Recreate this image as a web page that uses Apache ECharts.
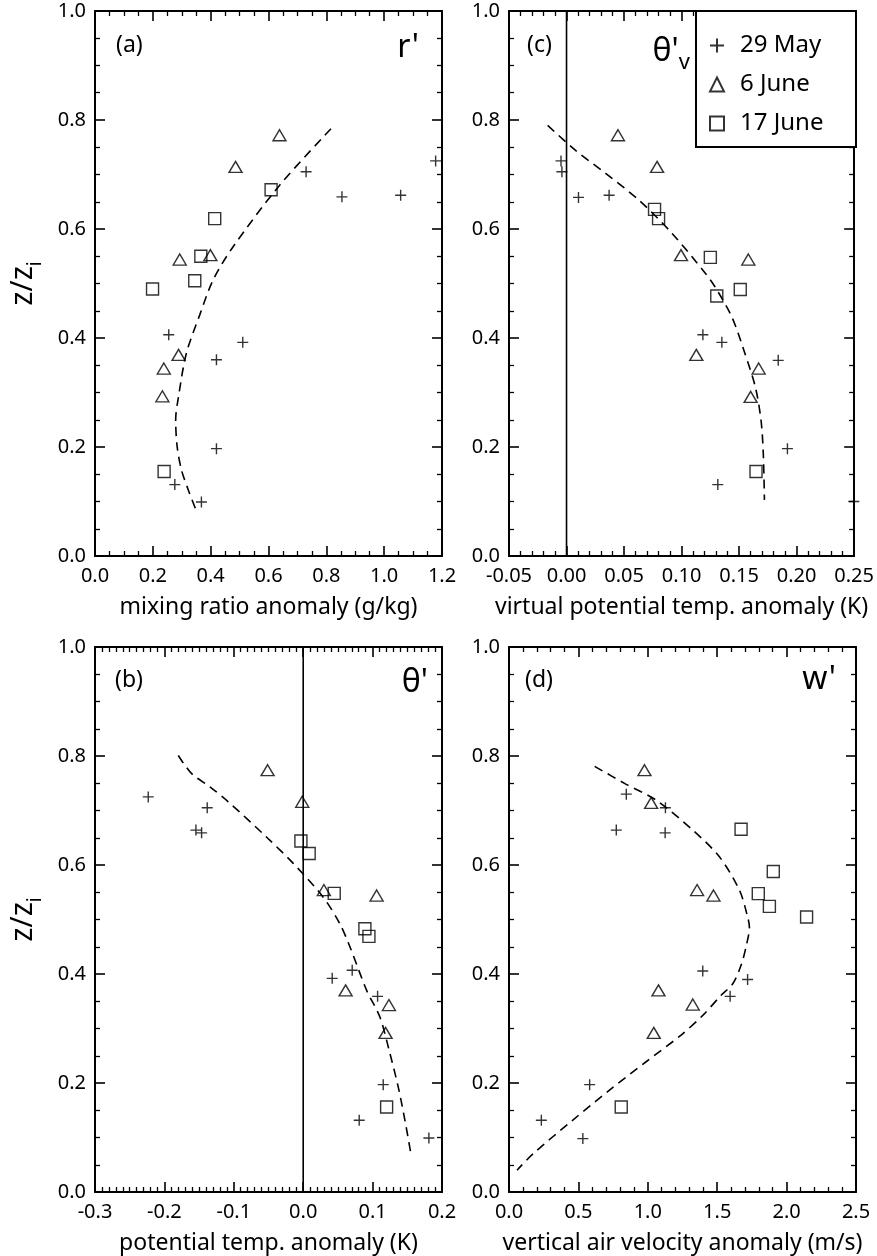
<!DOCTYPE html>
<html>
<head>
<meta charset="utf-8">
<script src="https://cdn.jsdelivr.net/npm/echarts@6/dist/echarts.min.js"></script>
<style>
html, body { margin: 0; padding: 0; background: #fff; }
#chart { width: 877px; height: 1256px; }
</style>
</head>
<body>
<div id="chart"></div>
<script>
const FONT = 'Noto Sans'

// legend names
const names = ['29 May', '6 June', '17 June']

// (a) mixing ratio anomaly, [x, z/zi]
const aMay = [[0.730, 0.705], [0.854, 0.659], [1.057, 0.662], [1.178, 0.725], [0.255, 0.406], [0.511, 0.392], [0.420, 0.360], [0.420, 0.197], [0.276, 0.131], [0.368, 0.099]]
const aJun6 = [[0.638, 0.772], [0.486, 0.714], [0.293, 0.544], [0.399, 0.552], [0.289, 0.369], [0.238, 0.344], [0.233, 0.293]]
const aJun17 = [[0.609, 0.672], [0.414, 0.619], [0.366, 0.550], [0.345, 0.505], [0.199, 0.490], [0.239, 0.155]]
const aFit = [[0.816, 0.784], [0.638, 0.680], [0.477, 0.567], [0.408, 0.506], [0.362, 0.442], [0.316, 0.372], [0.289, 0.293], [0.279, 0.250], [0.284, 0.201], [0.299, 0.158], [0.322, 0.122], [0.351, 0.082]]

// (c) virtual potential temp. anomaly
const cMay = [[-0.0048, 0.725], [-0.004, 0.705], [0.0104, 0.658], [0.037, 0.662], [0.1185, 0.406], [0.135, 0.392], [0.184, 0.359], [0.192, 0.197], [0.1315, 0.131], [0.2497, 0.100]]
const cJun6 = [[0.0447, 0.772], [0.0787, 0.714], [0.0995, 0.552], [0.158, 0.544], [0.1128, 0.369], [0.167, 0.344], [0.160, 0.292]]
const cJun17 = [[0.0765, 0.636], [0.080, 0.619], [0.125, 0.548], [0.151, 0.489], [0.1306, 0.477], [0.1647, 0.155]]
const cFit = [[-0.0164, 0.790], [0.0081, 0.744], [0.034, 0.702], [0.0629, 0.653], [0.0917, 0.592], [0.1206, 0.519], [0.129, 0.494], [0.1436, 0.439], [0.155, 0.372], [0.164, 0.311], [0.169, 0.250], [0.171, 0.189], [0.172, 0.103]]

// (b) potential temp. anomaly
const bMay = [[-0.2233, 0.725], [-0.1383, 0.705], [-0.1546, 0.664], [-0.1464, 0.659], [0.0418, 0.392], [0.0706, 0.407], [0.1072, 0.359], [0.1153, 0.197], [0.0807, 0.1316], [0.1811, 0.099]]
const bJun6 = [[-0.0513, 0.774], [-0.0014, 0.716], [0.0298, 0.554], [0.1058, 0.544], [0.0611, 0.370], [0.1235, 0.343], [0.1187, 0.292]]
const bJun17 = [[-0.0033, 0.644], [0.0086, 0.621], [0.0447, 0.548], [0.0889, 0.483], [0.0947, 0.469], [0.1202, 0.156]]
const bFit = [[-0.180, 0.801], [-0.161, 0.768], [-0.134, 0.743], [-0.108, 0.716], [-0.0527, 0.651], [-0.0144, 0.603], [0.0288, 0.541], [0.0529, 0.492], [0.0673, 0.450], [0.0914, 0.370], [0.1105, 0.321], [0.125, 0.254], [0.1369, 0.193], [0.1465, 0.132], [0.1548, 0.073]]

// (d) vertical air velocity anomaly
const dMay = [[0.845, 0.730], [1.127, 0.705], [0.773, 0.664], [1.125, 0.659], [1.396, 0.4055], [1.719, 0.390], [1.593, 0.359], [0.581, 0.197], [0.233, 0.1316], [0.532, 0.098]]
const dJun6 = [[0.976, 0.774], [1.024, 0.714], [1.355, 0.554], [1.473, 0.544], [1.077, 0.370], [1.324, 0.344], [1.043, 0.292]]
const dJun17 = [[1.672, 0.6655], [1.904, 0.588], [1.796, 0.5475], [1.876, 0.524], [2.144, 0.5046], [0.8086, 0.156]]
const dFit = [[0.617, 0.781], [0.845, 0.748], [1.060, 0.719], [1.324, 0.664], [1.516, 0.615], [1.660, 0.554], [1.719, 0.505], [1.732, 0.486], [1.708, 0.450], [1.672, 0.416], [1.612, 0.382], [1.528, 0.361], [1.396, 0.324], [1.240, 0.288], [0.988, 0.239], [0.724, 0.187], [0.460, 0.132], [0.173, 0.070], [0.058, 0.040]]

// x axes: [min, max, interval, minor splits, decimals]
const xRanges = [[0, 1.2, 0.2, 4, 1], [-0.05, 0.25, 0.05, 5, 2], [-0.3, 0.2, 0.1, 10, 1], [0, 2.5, 0.5, 5, 1]]
const xTitles = ['mixing ratio anomaly (g/kg)', 'virtual potential temp. anomaly (K)', 'potential temp. anomaly (K)', 'vertical air velocity anomaly (m/s)']
const yRange = [0, 1, 0.2, 4, 1]

const chart = echarts.init(document.getElementById('chart'), null, { renderer: 'canvas' })

const grids = [
  { left: 95, top: 11, width: 347, height: 545 },
  { left: 509, top: 11, width: 347, height: 545 },
  { left: 95, top: 647, width: 347, height: 545 },
  { left: 509, top: 647, width: 347, height: 545 }
]

const tick = () => ({ show: true, inside: true, length: 10, lineStyle: { color: '#000', width: 1.6 } })
const minor = (n) => ({ show: true, splitNumber: n, length: 5, lineStyle: { color: '#000', width: 1.3 } })
const axLine = () => ({ show: true, onZero: false, lineStyle: { color: '#000', width: 2 } })

const xAxis = []
const yAxis = []
grids.forEach((g, i) => {
  const [min, max, interval, split, dec] = xRanges[i]
  xAxis.push({
    type: 'value', gridIndex: i, position: 'bottom', min, max, interval,
    axisLine: axLine(), axisTick: tick(), minorTick: minor(split), splitLine: { show: false },
    axisLabel: { fontFamily: FONT, fontSize: 20, color: '#000', margin: 10, formatter: (v) => v.toFixed(dec) },
    name: xTitles[i], nameLocation: 'middle', nameGap: 40,
    nameTextStyle: { fontFamily: FONT, fontSize: 23, color: '#000' }
  })
  xAxis.push({
    type: 'value', gridIndex: i, position: 'top', min, max, interval,
    axisLine: axLine(), axisTick: tick(), minorTick: minor(split), splitLine: { show: false },
    axisLabel: { show: false }
  })
  const left = {
    type: 'value', gridIndex: i, position: 'left', min: yRange[0], max: yRange[1], interval: yRange[2],
    axisLine: axLine(), axisTick: tick(), minorTick: minor(yRange[3]), splitLine: { show: false },
    axisLabel: { fontFamily: FONT, fontSize: 20, color: '#000', margin: 9, formatter: (v) => v.toFixed(yRange[4]) }
  }
  if (i === 0 || i === 2) {
    left.name = '{n|z/z}{s|i}'
    left.nameLocation = 'middle'
    left.nameGap = 50
    left.nameTextStyle = {
      rich: {
        n: { fontFamily: FONT, fontSize: 30, color: '#000', lineHeight: 44, verticalAlign: 'middle' },
        s: { fontFamily: FONT, fontSize: 19, color: '#000', lineHeight: 22, verticalAlign: 'bottom' }
      }
    }
  }
  yAxis.push(left)
  yAxis.push({
    type: 'value', gridIndex: i, position: 'right', min: yRange[0], max: yRange[1], interval: yRange[2],
    axisLine: axLine(), axisTick: tick(), minorTick: minor(yRange[3]), splitLine: { show: false },
    axisLabel: { show: false }
  })
})

const plusPath = 'path://M5,0L5,10M0,5L10,5'
const symbols = [[plusPath, 11], ['triangle', [13, 11]], ['rect', 12]]

const series = []
const panels = [
  [aMay, aJun6, aJun17, aFit],
  [cMay, cJun6, cJun17, cFit],
  [bMay, bJun6, bJun17, bFit],
  [dMay, dJun6, dJun17, dFit]
]
panels.forEach((p, i) => {
  for (let k = 0; k < 3; k++) {
    series.push({
      type: 'scatter', name: names[k], data: p[k],
      xAxisIndex: i * 2, yAxisIndex: i * 2, clip: false,
      symbol: symbols[k][0], symbolSize: symbols[k][1],
      itemStyle: { color: 'rgba(0,0,0,0)', borderColor: '#000', borderWidth: 1.4 },
      z: 3
    })
  }
  series.push({
    type: 'line', data: p[3], xAxisIndex: i * 2, yAxisIndex: i * 2,
    smooth: 0.3, symbol: 'none', silent: true,
    lineStyle: { color: '#000', width: 1.6, type: [9, 6] }
  })
})
// zero lines in (c) and (b)
;[1, 2].forEach((i) => {
  series.push({
    type: 'line', data: [[0, 0], [0, 1]], xAxisIndex: i * 2, yAxisIndex: i * 2,
    symbol: 'none', silent: true, lineStyle: { color: '#000', width: 1.6 }
  })
})

const label = (text, x, y, size, align) => ({
  type: 'text', x, y,
  style: { text, font: `${size}px "${FONT}"`, fill: '#000', align, verticalAlign: 'middle' }
})

const option = {
  backgroundColor: '#fff',
  animation: false,
  grid: grids,
  xAxis,
  yAxis,
  series,
  legend: {
    data: names, orient: 'vertical', right: 21, top: 11,
    padding: [22, 0, 11, 13], itemGap: 14, itemWidth: 14, itemHeight: 14,
    borderColor: '#000', borderWidth: 2, backgroundColor: '#fff',
    selectedMode: false,
    textStyle: { fontFamily: FONT, fontSize: 24, color: '#000', lineHeight: 25, padding: [0, 0, 0, 11], width: 116 }
  },
  graphic: [
    label('(a)', 116, 45, 23, 'left'),
    label("r'", 419, 48, 32, 'right'),
    label('(c)', 527, 45, 23, 'left'),
    {
      type: 'text', x: 690, y: 52,
      style: {
        text: "{t|θ'}{s|v}", align: 'right', verticalAlign: 'middle',
        rich: {
          t: { font: `32px "${FONT}"`, fill: '#000', lineHeight: 44, verticalAlign: 'middle' },
          s: { font: `22px "${FONT}"`, fill: '#000', lineHeight: 24, verticalAlign: 'bottom' }
        }
      }
    },
    label('(b)', 115, 680, 23, 'left'),
    label("θ'", 428, 683, 32, 'right'),
    label('(d)', 525, 680, 23, 'left'),
    label("w'", 836, 680, 32, 'right')
  ]
}

chart.setOption(option)
</script>
</body>
</html>
